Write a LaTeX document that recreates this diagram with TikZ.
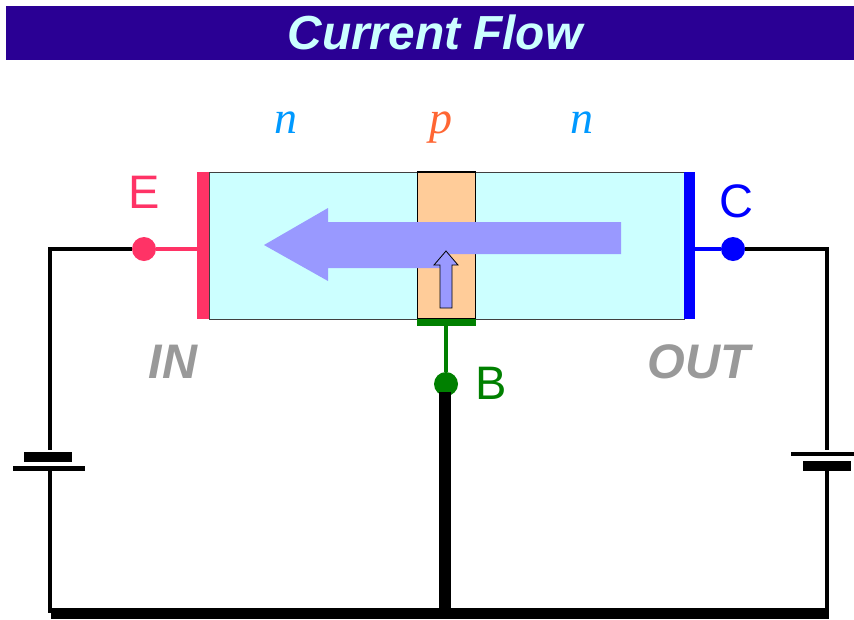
\documentclass[tikz,border=0pt]{standalone}
\usepackage{fontspec}
\setmainfont{Liberation Sans}
\newfontfamily\serifit[ItalicFont=Liberation Serif Italic]{Liberation Serif}
\definecolor{titlebg}{HTML}{2A0094}
\definecolor{lightcy}{HTML}{CCFFFF}
\definecolor{baseor}{HTML}{FFCC99}
\definecolor{emit}{HTML}{FF3366}
\definecolor{coll}{HTML}{0000FF}
\definecolor{bas}{HTML}{008000}
\definecolor{flow}{HTML}{9999FF}
\definecolor{ntype}{HTML}{0099FF}
\definecolor{ptype}{HTML}{FF6633}
\definecolor{lab}{HTML}{999999}
\tikzset{
  bar/.style={rectangle,draw=none,inner sep=0pt,outer sep=0pt},
  region/.style={rectangle,draw=black!75,line width=0.8pt,inner sep=0pt,outer sep=0pt},
  dot/.style={circle,draw=none,inner sep=0pt,outer sep=0pt,minimum size=24pt},
  wire/.style={draw=black,line width=4pt},
  thickwire/.style={draw=black,line width=12pt},
  typelabel/.style={inner sep=0pt,anchor=base,font=\fontsize{46}{46}\selectfont\serifit\itshape},
  termlabel/.style={inner sep=0pt,font=\fontsize{47}{47}\selectfont},
  sidelabel/.style={inner sep=0pt,text=lab,font=\fontsize{48.5}{48.5}\selectfont\bfseries\itshape},
}
\begin{document}
\begin{tikzpicture}[x=1pt,y=-1pt]
\useasboundingbox (0,0) rectangle (854,619);
\fill[white] (0,0) rectangle (854,619);
% title
\node[bar,fill=titlebg,minimum width=848pt,minimum height=54pt] (titlebar) at (430,33) {};
\node[inner sep=0pt,text=lightcy,font=\fontsize{47.8}{47.8}\selectfont\bfseries\itshape] (title) at (435,32.5) {Current Flow};
% device
\node[region,fill=lightcy,minimum width=475pt,minimum height=147pt] (body) at (446.5,245.5) {};
\node[region,draw=black,line width=1.2pt,fill=baseor,minimum width=58.5pt,minimum height=147pt] (base) at (446.5,245.5) {};
\node[bar,fill=emit,minimum width=12pt,minimum height=147pt] (ebar) at (203,245.5) {};
\node[bar,fill=coll,minimum width=11.5pt,minimum height=147pt] (cbar) at (689.5,245.5) {};
\node[bar,fill=bas,minimum width=59pt,minimum height=7pt] (bbar) at (446.5,322.5) {};
% terminals
\node[dot,fill=emit] (edot) at (144,249) {};
\node[dot,fill=coll] (cdot) at (733,249) {};
\node[dot,fill=bas] (bdot) at (446,384) {};
% batteries
\node[bar,fill=black,minimum width=48pt,minimum height=10pt] (lthick) at (48,456.5) {};
\node[bar,fill=black,minimum width=72pt,minimum height=5pt] (lthin) at (48.5,468.5) {};
\node[bar,fill=black,minimum width=63pt,minimum height=4.5pt] (rthin) at (822.5,454) {};
\node[bar,fill=black,minimum width=48pt,minimum height=10pt] (rthick) at (827,466) {};
% routing points
\coordinate (ltop) at (50,249);
\coordinate (rtop) at (827,249);
\coordinate (lbat1) at (50,450);
\coordinate (lbat2) at (50,471);
\coordinate (rbat1) at (827,450);
\coordinate (rbat2) at (827,471);
\coordinate (lbot) at (50,613);
\coordinate (rbot) at (827,613);
\coordinate (mbot) at (445,613);
\coordinate (mtop) at (445,392);
% wires
\draw[line width=4pt,draw=emit] (edot) -- (edot -| ebar.west);
\draw[line width=4pt,draw=coll] (cdot) -- (cdot -| cbar.east);
\draw[line width=4pt,draw=bas] (bdot) -- (bdot |- bbar.south);
\draw[wire] (edot.west) -- (ltop) -- (lbat1);
\draw[wire] (lbat2) -- (lbot);
\draw[wire] (cdot.east) -- (rtop) -- (rbat1);
\draw[wire] (rbat2) -- (rbot);
\draw[thickwire] (mtop) -- (mbot);
\draw[draw=black,line width=11pt] ([xshift=1pt]lbot) -- ([xshift=2pt]rbot);
% big arrow
\coordinate (a1) at (621,222);
\coordinate (a2) at (328,222);
\coordinate (a3) at (328,208);
\coordinate (a4) at (264,245);
\coordinate (a5) at (328,281);
\coordinate (a6) at (328,268);
\coordinate (a7) at (446,268);
\coordinate (a8) at (446,254);
\coordinate (a9) at (621,254);
\fill[flow] (a1) -- (a2) -- (a3) -- (a4) -- (a5) -- (a6) -- (a7) -- (a8) -- (a9) -- cycle;
% small arrow
\coordinate (s1) at (446,251);
\coordinate (s2) at (458,265);
\coordinate (s3) at (452,265);
\coordinate (s4) at (452,308);
\coordinate (s5) at (440,308);
\coordinate (s6) at (440,265);
\coordinate (s7) at (434,265);
\filldraw[fill=flow,draw=black,line width=0.8pt] (s1) -- (s2) -- (s3) -- (s4) -- (s5) -- (s6) -- (s7) -- cycle;
% labels
\node[typelabel,text=ntype] (n1) at (285.5,133) {n};
\node[typelabel,text=ptype] (p) at (441,133) {p};
\node[typelabel,text=ntype] (n2) at (582,133) {n};
\node[termlabel,text=emit] (e) at (144,192) {E};
\node[termlabel,text=coll] (c) at (736,201) {C};
\node[termlabel,text=bas] (b) at (491,383) {B};
\node[sidelabel] (in) at (173,362) {IN};
\node[sidelabel] (out) at (699,362) {OUT};
\end{tikzpicture}
\end{document}
